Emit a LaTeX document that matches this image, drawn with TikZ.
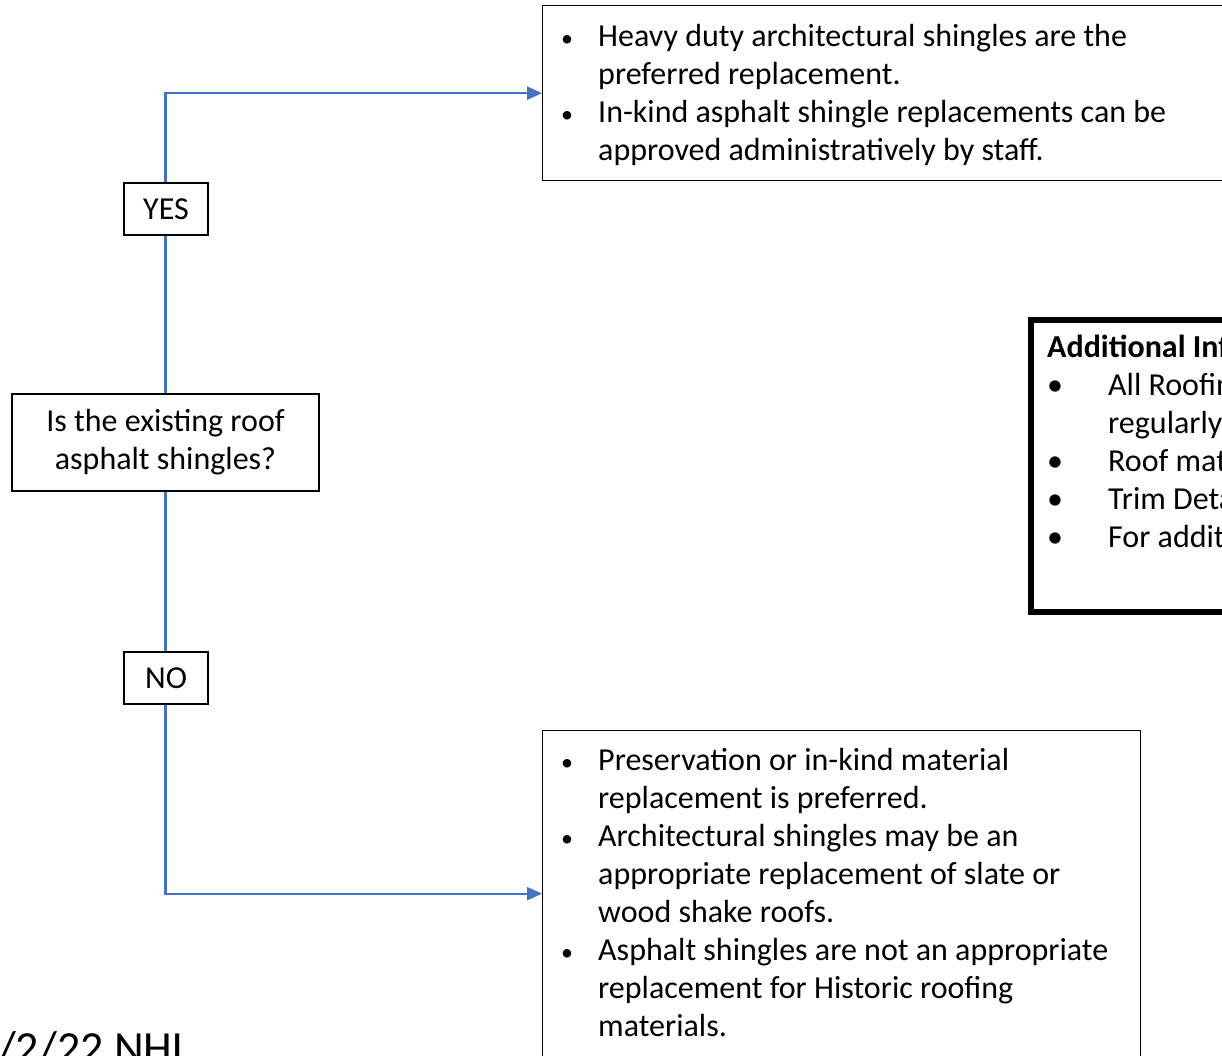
\documentclass[tikz,border=0pt]{standalone}
\usepackage{fontspec}
\setmainfont{Carlito}
\usetikzlibrary{arrows.meta}
\definecolor{connblue}{HTML}{4472C4}
\newcommand{\smbul}{{\fontsize{24}{38}\selectfont •}}
\begin{document}
\begin{tikzpicture}[x=1pt,y=-1pt,
  box/.style={draw=black, line width=1.3pt, fill=white, inner sep=0pt},
  thickbox/.style={draw=black, line width=6pt, fill=white, inner sep=0pt},
  conn/.style={draw=connblue, line width=2.3pt},
  arr/.style={conn, -{Triangle[length=15pt,width=13pt]}},
  txt/.style={font=\fontsize{32}{38}\selectfont, inner sep=0pt},
  lst/.style={txt, anchor=north west}
]
\useasboundingbox (0,0) rectangle (1222,1055);
% boxes
\node[box, anchor=north west, minimum width=720pt, minimum height=175pt] (top) at (542,5) {};
\node[box, anchor=north west, minimum width=598pt, minimum height=326pt] (bot) at (542,730) {};
\node[thickbox, anchor=north west, minimum width=260pt, minimum height=292pt] (info) at (1028,317) {};
\node[box, txt, minimum width=307pt, minimum height=97pt, align=center] (q) at (165.5,442.5) {Is the existing roof\\asphalt shingles?};
\node[box, txt, minimum width=84pt, minimum height=52pt] (yes) at (166,209) {YES};
\node[box, txt, minimum width=84pt, minimum height=52pt] (no) at (166,678) {NO};
% texts
\node[lst] (toptext) at (561,20) {\begin{tabular}{@{}p{37pt}@{}l@{}}
\smbul & Heavy duty architectural shingles are the\\
  & preferred replacement.\\
\smbul & In-kind asphalt shingle replacements can be\\
  & approved administratively by staff.
\end{tabular}};
\node[lst] (bottext) at (561,744) {\begin{tabular}{@{}p{37pt}@{}l@{}}
\smbul & Preservation or in-kind material\\
  & replacement is preferred.\\
\smbul & Architectural shingles may be an\\
  & appropriate replacement of slate or\\
  & wood shake roofs.\\
\smbul & Asphalt shingles are not an appropriate\\
  & replacement for Historic roofing\\
  & materials.
\end{tabular}};
\node[lst] (infotext) at (1047,331) {\begin{tabular}{@{}p{61pt}@{}l@{}}
\multicolumn{2}{@{}l@{}}{\textbf{Additional Inf}}\\
• & All Roofin\\
  & regularly\\
• & Roof mat\\
• & Trim Deta\\
• & For addit
\end{tabular}};
\node[font=\fontsize{46}{52}\selectfont, inner sep=0pt, anchor=base west] (date) at (-2,1063) {/2/22 NHL};
% connectors
\draw[conn] (q.north) -- (q.north |- yes.south);
\draw[arr] (yes.north -| q.north) |- (top.west);
\draw[conn] (q.south) -- (q.south |- no.north);
\draw[arr] (no.south -| q.south) |- (bot.west);
\end{tikzpicture}
\end{document}
